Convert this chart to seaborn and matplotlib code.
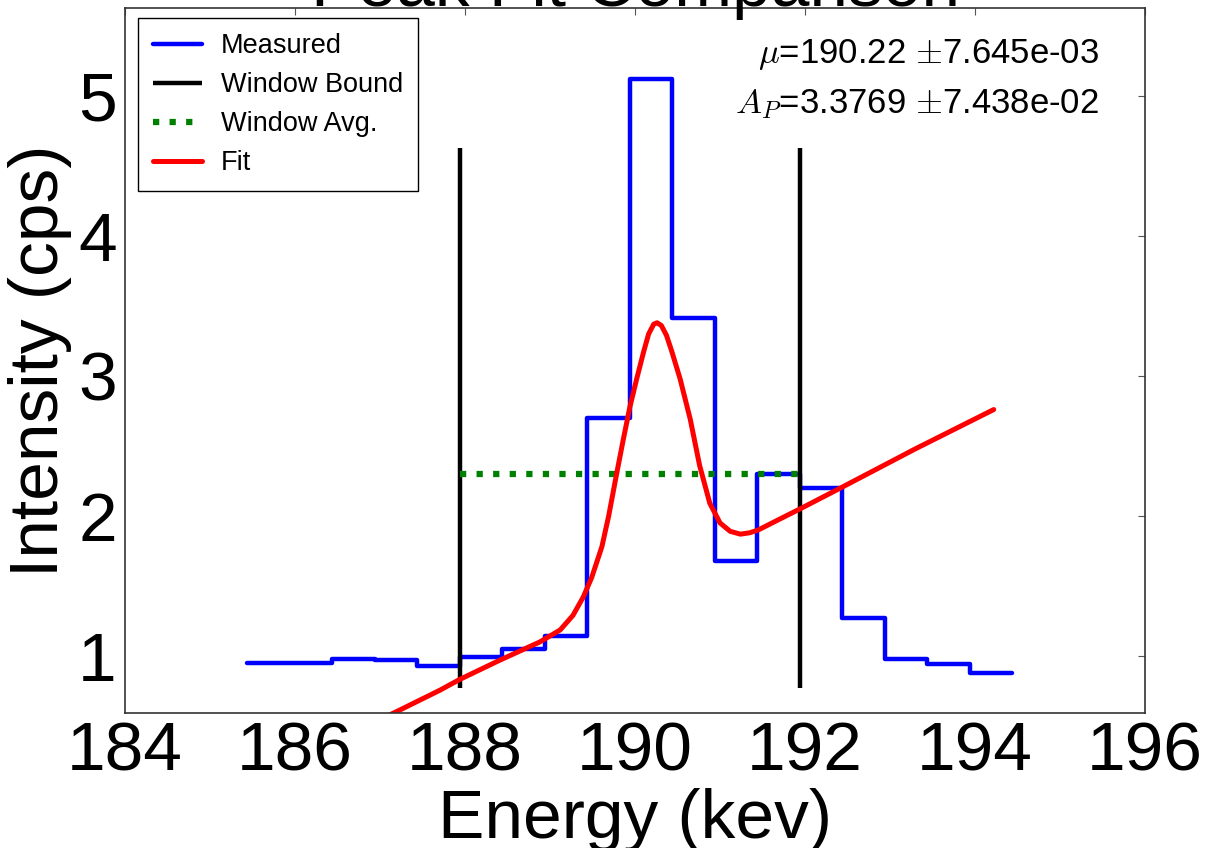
import seaborn as sns
import matplotlib.pyplot as plt
import pandas as pd

# measured histogram (cps per 0.5 keV bin)
bin_edges = [185.44, 185.94, 186.44, 186.94, 187.44, 187.94, 188.44, 188.94,
             189.44, 189.94, 190.44, 190.94, 191.44, 191.94, 192.44, 192.94,
             193.44, 193.94, 194.44]
counts = [0.95, 0.95, 0.975, 0.97, 0.93, 0.995, 1.05, 1.14, 2.70, 5.12,
          3.415, 1.68, 2.30, 2.20, 1.27, 0.98, 0.945, 0.875]

# window
win_lo, win_hi = 187.94, 191.94
win_ymin, win_ymax = 0.77, 4.63
win_avg = 2.30

# fitted curve
fit_x = [187.05, 187.24, 187.71, 187.93, 188.41, 188.88, 189.12, 189.27,
         189.39, 189.49, 189.61, 189.69, 189.78, 189.86, 189.94, 190.02,
         190.10, 190.16, 190.22, 190.26, 190.31, 190.37, 190.43, 190.53,
         190.65, 190.76, 190.88, 191.00, 191.12, 191.24, 191.35, 191.45,
         191.71, 191.94, 192.45, 193.30, 194.22]
fit_y = [0.56, 0.616, 0.757, 0.83, 0.97, 1.10, 1.186, 1.29,
         1.42, 1.56, 1.78, 2.00, 2.29, 2.54, 2.78, 2.98,
         3.17, 3.30, 3.37, 3.38, 3.36, 3.29, 3.18, 2.98,
         2.69, 2.36, 2.09, 1.95, 1.89, 1.87, 1.88, 1.90,
         1.98, 2.05, 2.21, 2.48, 2.76]

mu_text = r'$\mu$=190.22 $\pm$7.645e-03'
ap_text = r'$A_P$=3.3769 $\pm$7.438e-02'

sns.set_style("white")
plt.rcParams['font.family'] = ['Liberation Sans', 'DejaVu Sans']
plt.rcParams['mathtext.fontset'] = 'cm'
plt.rcParams['text.color'] = 'black'
plt.rcParams['axes.labelcolor'] = 'black'
plt.rcParams['xtick.color'] = 'black'
plt.rcParams['ytick.color'] = 'black'

step_df = pd.DataFrame({"energy": bin_edges, "cps": counts + [counts[-1]]})
fit_df = pd.DataFrame({"energy": fit_x, "cps": fit_y})
avg_df = pd.DataFrame({"energy": [win_lo, win_hi], "cps": [win_avg, win_avg]})

fig = plt.figure(figsize=(12.09, 8.48), dpi=100)
ax = fig.add_axes([0.1034, 0.1596, 0.8437, 0.8306])

sns.lineplot(data=step_df, x="energy", y="cps", drawstyle="steps-post",
             color="#0000ff", lw=3.2, label="Measured", ax=ax)
ax.vlines([win_lo, win_hi], win_ymin, win_ymax, color="k", lw=3.2,
          label="Window Bound")
sns.lineplot(data=avg_df, x="energy", y="cps", color="green", lw=4.5,
             ls=":", label="Window Avg.", ax=ax)
sns.lineplot(data=fit_df, x="energy", y="cps", color="red", lw=3.6,
             label="Fit", ax=ax)

ax.set_xlim(184, 196)
ax.set_ylim(0.595, 5.626)
ax.set_xticks([184, 186, 188, 190, 192, 194, 196])
ax.set_yticks([1, 2, 3, 4, 5])
ax.tick_params(direction="in", length=5, width=0.8, color="#555555",
               labelsize=50, labelcolor="black", top=True, right=True, pad=6)
for s in ax.spines.values():
    s.set_color("#333333")
    s.set_linewidth(1.2)

ax.set_xlabel("Energy (kev)", fontsize=50, labelpad=2)
ax.set_ylabel("Intensity (cps)", fontsize=50, labelpad=4)
ax.set_title("Peak Fit Comparison", fontsize=50, pad=2)

ax.text(0.955, 0.922, mu_text, transform=ax.transAxes, ha="right",
        va="baseline", fontsize=25)
ax.text(0.955, 0.851, ap_text, transform=ax.transAxes, ha="right",
        va="baseline", fontsize=25)

leg = ax.legend(loc="upper left", bbox_to_anchor=(0.0127, 0.986),
                borderaxespad=0, fontsize=19.5, fancybox=False,
                framealpha=1, edgecolor="k", handlelength=1.8,
                handletextpad=0.7, labelspacing=0.48, borderpad=0.55)
leg.get_frame().set_linewidth(1.0)

fig.savefig("out.png", dpi=100)
